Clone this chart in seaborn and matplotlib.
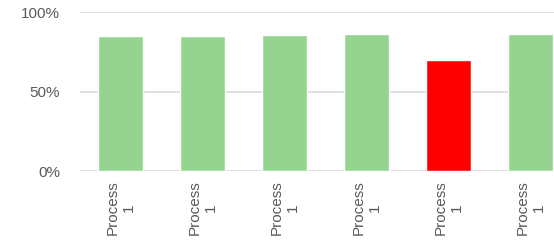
import numpy as np
import pandas as pd
import seaborn as sns
import matplotlib
matplotlib.use("Agg")
import matplotlib.pyplot as plt
from matplotlib.ticker import PercentFormatter

# data
slots = ["s1", "s2", "s3", "s4", "s5", "s6"]
tick_labels = ["Process\n1"] * 6
values = [0.851, 0.851, 0.857, 0.862, 0.701, 0.865]
bar_colors = ["#95d391", "#95d391", "#95d391", "#95d391", "#ff0000", "#95d391"]

df = pd.DataFrame({"slot": slots, "value": values})

sns.set_style("white")
plt.rcParams["font.family"] = ["Liberation Sans", "DejaVu Sans"]

fig = plt.figure(figsize=(5.54, 2.43), dpi=100)
# the original chart runs past the right edge of the image
ax = fig.add_axes([79.5 / 554, 72 / 243, 492 / 554, 158.5 / 243])

sns.barplot(data=df, x="slot", y="value", hue="slot", palette=bar_colors,
            legend=False, width=0.55, saturation=1, ax=ax)

ax.set_ylim(0, 1)
ax.set_yticks([0, 0.5, 1])
ax.yaxis.set_major_formatter(PercentFormatter(1.0, decimals=0))
ax.yaxis.grid(True, color="#d9d9d9", linewidth=1.2)
ax.set_axisbelow(True)
for s in ax.spines.values():
    s.set_visible(False)

ax.set_xticks(range(len(slots)))
ax.set_xticklabels(tick_labels, rotation=90)
for lab in ax.get_xticklabels():
    lab.set_multialignment("center")
ax.tick_params(axis="x", length=0, pad=7, labelsize=11, labelcolor="#595959")
ax.tick_params(axis="y", length=0, pad=14, labelsize=11, labelcolor="#595959")
ax.set_xlabel("")
ax.set_ylabel("")

fig.savefig("out.png", dpi=100)
